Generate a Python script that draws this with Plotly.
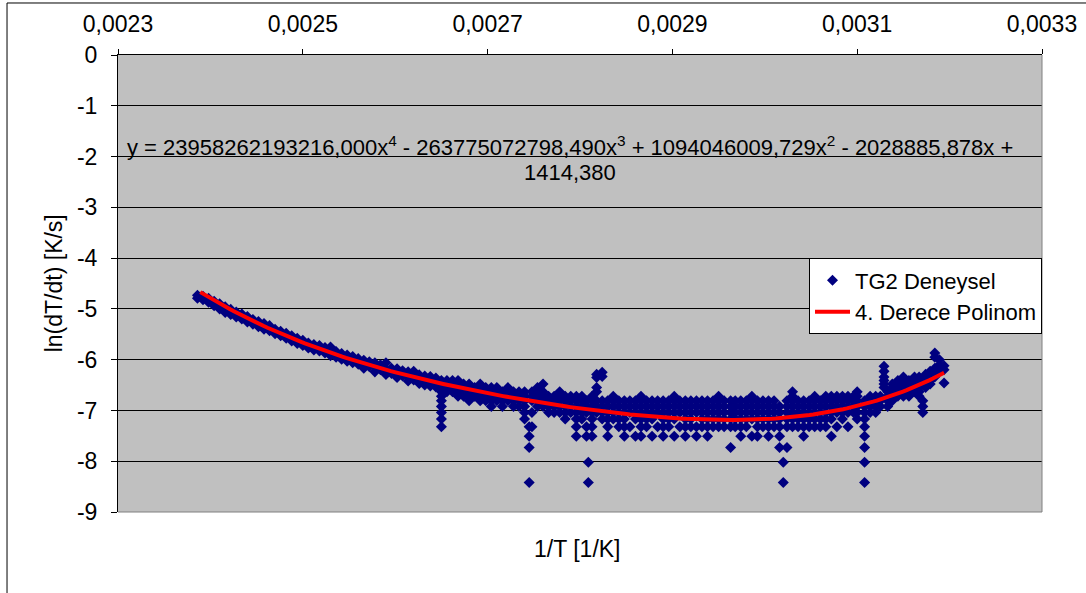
import numpy as np
import plotly.graph_objects as go

# Measured points: 1/T in units of 1e-3 1/K, and ln(dT/dt) values for each 1/T column
inv_T_milli = [
    2.386, 2.392, 2.398, 2.404, 2.410, 2.416, 2.422, 2.428, 2.434, 2.440,
    2.446, 2.452, 2.458, 2.464, 2.470, 2.476, 2.482, 2.488, 2.494, 2.500,
    2.506, 2.512, 2.518, 2.524, 2.530, 2.536, 2.542, 2.548, 2.554, 2.560,
    2.566, 2.572, 2.578, 2.584, 2.590, 2.596, 2.602, 2.608, 2.614, 2.620,
    2.626, 2.632, 2.638, 2.644, 2.650, 2.656, 2.662, 2.668, 2.674, 2.680,
    2.686, 2.692, 2.698, 2.704, 2.710, 2.716, 2.722, 2.728, 2.734, 2.740,
    2.745, 2.748, 2.754, 2.760, 2.766, 2.772, 2.778, 2.784, 2.790, 2.796,
    2.802, 2.807, 2.809, 2.813, 2.818, 2.824,
    2.830, 2.836, 2.842, 2.848, 2.854, 2.860, 2.866, 2.872, 2.878, 2.884,
    2.890, 2.896, 2.902, 2.908, 2.914, 2.920, 2.926, 2.932, 2.938, 2.944,
    2.950, 2.956, 2.963, 2.968, 2.974, 2.980, 2.986, 2.992, 2.998, 3.004,
    3.010, 3.016, 3.020, 3.024, 3.030, 3.036, 3.042, 3.048, 3.054, 3.060,
    3.066, 3.072, 3.078, 3.084, 3.090, 3.096, 3.100, 3.108, 3.114, 3.120,
    3.125, 3.129, 3.133, 3.138, 3.144, 3.150, 3.156, 3.162, 3.167, 3.171,
    3.174, 3.179, 3.184, 3.189, 3.194,
]

ln_rate = [
    [-4.73, -4.79], [-4.75, -4.82], [-4.79, -4.87], [-4.85, -4.94], [-4.90, -5.00],
    [-4.96, -5.07], [-5.01, -5.11], [-5.06, -5.16], [-5.10, -5.20], [-5.15, -5.26],
    [-5.21, -5.30], [-5.25, -5.35], [-5.29, -5.40], [-5.33, -5.43], [-5.40, -5.49],
    [-5.44, -5.53], [-5.48, -5.58], [-5.53, -5.63], [-5.58, -5.68], [-5.62, -5.72],
    [-5.67, -5.77], [-5.70, -5.81], [-5.72, -5.83], [-5.76, -5.87], [-5.75, -5.84, -5.92],
    [-5.84, -5.95], [-5.88, -5.99], [-5.91, -6.03], [-5.94, -6.06], [-5.98, -6.09],
    [-6.01, -6.09, -6.17], [-6.04, -6.14], [-6.06, -6.14, -6.24], [-6.10, -6.20], [-6.06, -6.20, -6.29],
    [-6.17, -6.27], [-6.18, -6.26, -6.35], [-6.22, -6.32], [-6.24, -6.33, -6.42], [-6.23, -6.30, -6.40],
    [-6.30, -6.38, -6.47], [-6.32, -6.40, -6.50], [-6.33, -6.42, -6.52], [-6.36, -6.45, -6.54],
    [-6.41, -6.48, -6.55, -6.63, -6.72, -6.81, -6.92, -7.04, -7.17, -7.32],
    [-6.41, -6.48, -6.55, -6.63], [-6.41, -6.48, -6.55, -6.63], [-6.41, -6.48, -6.55, -6.63, -6.72],
    [-6.48, -6.55, -6.63, -6.72], [-6.48, -6.55, -6.63, -6.72, -6.81],
    [-6.55, -6.63, -6.72], [-6.48, -6.55, -6.63, -6.72, -6.81], [-6.55, -6.63, -6.72, -6.81],
    [-6.55, -6.63, -6.72, -6.81, -6.92], [-6.55, -6.63, -6.72, -6.81], [-6.63, -6.72, -6.81, -6.92],
    [-6.55, -6.63, -6.72, -6.81], [-6.63, -6.72, -6.81, -6.92], [-6.63, -6.72, -6.81, -6.92],
    [-6.63, -6.72, -6.81, -6.92, -7.04, -7.17],
    [-7.32, -7.51, -7.73, -8.42], [-6.63, -6.72, -6.81, -7.04, -7.32],
    [-6.55, -6.63, -6.72, -6.81, -6.92], [-6.48, -6.63, -6.72, -6.81, -6.92],
    [-6.72, -6.81, -6.92, -7.04], [-6.72, -6.81, -6.92, -7.04], [-6.63, -6.72, -6.81, -6.92, -7.04],
    [-6.72, -6.81, -6.92, -7.04, -7.17], [-6.72, -6.81, -6.92, -7.04],
    [-6.72, -6.81, -6.92, -7.04, -7.17, -7.32, -7.51], [-6.72, -6.81, -6.92, -7.04, -7.17],
    [-6.81, -6.92, -7.04, -7.32, -7.51], [-8.02, -8.42],
    [-6.72, -6.81, -6.92, -7.04, -7.17, -7.32, -7.51],
    [-6.29, -6.35, -6.55, -6.63, -6.81, -6.92, -7.04], [-6.25, -6.33, -6.81, -6.92, -7.04, -7.17],
    [-6.81, -6.92, -7.04, -7.17, -7.32, -7.51], [-6.72, -6.81, -6.92, -7.04, -7.17],
    [-6.81, -6.92, -7.04, -7.17, -7.32], [-6.81, -6.92, -7.04, -7.17, -7.32, -7.51],
    [-6.81, -6.92, -7.04, -7.32], [-6.81, -6.92, -7.04, -7.17, -7.51],
    [-6.72, -6.81, -6.92, -7.04, -7.17, -7.32, -7.51], [-6.81, -6.92, -7.04, -7.17, -7.32],
    [-6.81, -6.92, -7.04, -7.17, -7.51], [-6.81, -6.92, -7.04, -7.32],
    [-6.81, -6.92, -7.04, -7.17, -7.32, -7.51], [-6.81, -6.92, -7.04, -7.17, -7.32],
    [-6.72, -6.81, -6.92, -7.04, -7.17, -7.51], [-6.81, -6.92, -7.04, -7.32],
    [-6.81, -6.92, -7.04, -7.17, -7.32, -7.51], [-6.81, -6.92, -7.04, -7.17, -7.32],
    [-6.81, -6.92, -7.04, -7.32, -7.51], [-6.81, -6.92, -7.04, -7.17, -7.32],
    [-6.81, -6.92, -7.04, -7.17, -7.32, -7.51], [-6.81, -6.92, -7.04, -7.17, -7.32],
    [-6.72, -6.81, -6.92, -7.04, -7.17, -7.32], [-6.81, -6.92, -7.04, -7.17, -7.32],
    [-6.81, -6.92, -7.04, -7.17, -7.32, -7.73], [-6.81, -6.92, -7.04, -7.17, -7.32],
    [-6.81, -6.92, -7.04, -7.17, -7.32, -7.51], [-6.81, -6.92, -7.04, -7.17, -7.32],
    [-6.72, -6.81, -6.92, -7.04, -7.17, -7.51], [-6.81, -6.92, -7.04, -7.17, -7.32, -7.51],
    [-6.81, -6.92, -7.04, -7.17, -7.32], [-6.81, -6.92, -7.04, -7.17, -7.32, -7.51],
    [-6.81, -6.92, -7.04, -7.17, -7.32], [-6.92, -7.04, -7.17, -7.32, -7.51, -7.73],
    [-8.02, -8.42], [-6.81, -6.92, -7.04, -7.17, -7.32, -7.73],
    [-6.63, -6.72, -6.81, -6.92, -7.04, -7.17, -7.32], [-6.81, -6.92, -7.04, -7.17, -7.32],
    [-6.81, -6.92, -7.04, -7.17, -7.32, -7.51], [-6.81, -6.92, -7.04, -7.17, -7.32],
    [-6.72, -6.81, -6.92, -7.04, -7.17, -7.32], [-6.81, -6.92, -7.04, -7.17, -7.32],
    [-6.72, -6.81, -6.92, -7.04, -7.17, -7.32], [-6.72, -6.81, -6.92, -7.04, -7.17, -7.51],
    [-6.72, -6.81, -6.92, -7.04, -7.32], [-6.72, -6.81, -6.92, -7.04, -7.17],
    [-6.72, -6.81, -6.92, -7.04, -7.32], [-6.72, -6.81, -6.92, -7.04],
    [-6.63, -6.72, -6.81, -6.92, -7.04, -7.17],
    [-6.81, -6.92, -7.04, -7.17, -7.32, -7.51, -7.73, -8.02, -8.42],
    [-6.72, -6.81, -6.92, -7.04], [-6.72, -6.81, -6.92, -7.04], [-6.72, -6.81, -6.92],
    [-6.13, -6.23, -6.34, -6.41, -6.48, -6.55], [-6.63, -6.72, -6.81, -6.92],
    [-6.48, -6.55, -6.63, -6.72, -6.81], [-6.41, -6.48, -6.55, -6.63, -6.72],
    [-6.34, -6.41, -6.48, -6.55, -6.63, -6.72], [-6.41, -6.48, -6.55, -6.63, -6.72],
    [-6.34, -6.41, -6.48, -6.55, -6.63], [-6.34, -6.41, -6.48, -6.55, -6.63, -6.72],
    [-6.81, -6.92, -7.04], [-6.29, -6.34, -6.41, -6.48, -6.55],
    [-6.23, -6.29, -6.34, -6.41, -6.48], [-5.87, -5.95, -6.17, -6.23, -6.29, -6.34],
    [-6.00, -6.10, -6.17, -6.23], [-6.12, -6.20, -6.46],
]

# 4th-degree trendline coefficients (highest power first), as printed on the chart
poly_coeffs = [23958262193216.000, -263775072798.490, 1094046009.729, -2028885.878, 1414.380]

x_ticks = [0.0023, 0.0025, 0.0027, 0.0029, 0.0031, 0.0033]
x_tick_text = ["0,0023", "0,0025", "0,0027", "0,0029", "0,0031", "0,0033"]
y_ticks = [0, -1, -2, -3, -4, -5, -6, -7, -8, -9]
y_tick_text = ["0", "-1", "-2", "-3", "-4", "-5", "-6", "-7", "-8", "-9"]

# flatten the columns into point lists
pts_x, pts_y = [], []
for xm, ys in zip(inv_T_milli, ln_rate):
    for yv in ys:
        pts_x.append(xm * 1e-3)
        pts_y.append(yv)

fit_x = np.linspace(min(pts_x) + 0.000003, max(pts_x), 200)
fit_y = np.polyval(poly_coeffs, fit_x)

FONT = "Liberation Sans, Arial, sans-serif"

fig = go.Figure()
fig.add_trace(go.Scatter(
    x=pts_x, y=pts_y, mode="markers", name="TG2 Deneysel",
    marker=dict(symbol="diamond", size=8.5, color="#000080", line=dict(width=0)),
))
fig.add_trace(go.Scatter(
    x=fit_x, y=fit_y, mode="lines", name="4. Derece Polinom",
    line=dict(color="#FF0000", width=4),
))

fig.update_layout(
    width=1086, height=593,
    margin=dict(l=118, r=44, t=55, b=81, autoexpand=False),
    paper_bgcolor="white", plot_bgcolor="#C0C0C0",
    font=dict(family=FONT, size=23, color="black"),
    showlegend=True,
    legend=dict(
        x=1.0, xanchor="right", y=0.555, yanchor="top",
        bgcolor="white", bordercolor="black", borderwidth=1,
        font=dict(family=FONT, size=22, color="black"),
        tracegroupgap=0, itemwidth=35,
    ),
    xaxis=dict(
        side="top", range=[0.0023, 0.0033], tickvals=x_ticks, ticktext=x_tick_text,
        ticks="outside", ticklen=5, tickcolor="black", tickwidth=1,
        showline=True, linecolor="black", linewidth=1,
        showgrid=False, zeroline=False, ticklabelstandoff=8, automargin=False,
        tickfont=dict(family=FONT, size=23, color="black"),
    ),
    yaxis=dict(
        range=[-9, 0], tickvals=y_ticks, ticktext=y_tick_text, ticks="outside", ticklen=6,
        tickcolor="black", tickwidth=1,
        showline=True, linecolor="black", linewidth=1,
        showgrid=True, gridcolor="black", gridwidth=1, zeroline=False,
        ticklabelstandoff=9, automargin=False,
        tickfont=dict(family=FONT, size=23, color="black"),
    ),
    shapes=[
        # plot-area border on the right and bottom
        dict(type="line", xref="paper", yref="paper", x0=1, x1=1, y0=0, y1=1,
             line=dict(color="#808080", width=1), layer="above"),
        dict(type="line", xref="paper", yref="paper", x0=0, x1=1, y0=0, y1=0,
             line=dict(color="#808080", width=1), layer="above"),
        # chart-area frame
        dict(type="line", xref="paper", yref="paper", x0=-0.1201, x1=1.06, y0=1.1138, y1=1.1138,
             line=dict(color="black", width=1)),
        dict(type="line", xref="paper", yref="paper", x0=-0.1201, x1=-0.1201, y0=-0.2, y1=1.1138,
             line=dict(color="black", width=1)),
    ],
    annotations=[
        dict(text="y = 23958262193216,000x<sup>4</sup> - 263775072798,490x<sup>3</sup> + "
                  "1094046009,729x<sup>2</sup> - 2028885,878x +",
             xref="paper", yref="paper", x=0.4887, y=0.8, xanchor="center", yanchor="middle",
             showarrow=False, font=dict(family=FONT, size=22, color="black")),
        dict(text="1414,380", xref="paper", yref="paper", x=0.4887, y=0.743,
             xanchor="center", yanchor="middle", showarrow=False,
             font=dict(family=FONT, size=22, color="black")),
        dict(text="1/T [1/K]", xref="paper", yref="paper", x=0.4968, y=-0.081,
             xanchor="center", yanchor="middle", showarrow=False,
             font=dict(family=FONT, size=23, color="black")),
        dict(text="ln(dT/dt) [K/s]", xref="paper", yref="paper", x=-0.069, y=0.501,
             xanchor="center", yanchor="middle", textangle=-90, showarrow=False,
             font=dict(family=FONT, size=23, color="black")),
    ],
)

fig.write_html("out.html")
